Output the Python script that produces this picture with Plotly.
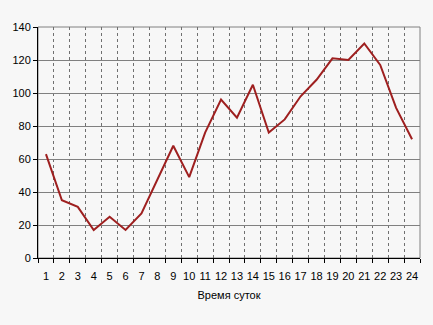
import plotly.graph_objects as go

hours = [str(i) for i in range(1, 25)]
values = [63, 35, 31, 17, 25, 17, 27, 47, 68, 49, 76, 96, 85, 105, 76, 84, 98, 108, 121, 120, 130, 117, 91, 72]
y_ticks = [0, 20, 40, 60, 80, 100, 120, 140]
x_title = "Время суток"

fig = go.Figure()
fig.add_trace(go.Scatter(x=hours, y=values, mode="lines",
                         line=dict(color="#9e1f1f", width=2), hoverinfo="skip"))

fig.update_layout(
    width=433, height=325,
    margin=dict(l=36, r=13, t=27, b=67),
    paper_bgcolor="#f7f7f7", plot_bgcolor="#f7f7f7",
    showlegend=False,
    font=dict(family="Liberation Sans, Arial, sans-serif", size=11, color="#000000"),
    shapes=[dict(type="rect", xref="paper", yref="paper", x0=0, y0=0, x1=1, y1=1,
                 line=dict(color="#808080", width=1), layer="below")],
)
fig.update_xaxes(
    type="category", tickson="boundaries", ticks="outside", ticklen=4,
    range=[-0.5, 23.5], tickangle=0, ticklabelstandoff=8,
    tickcolor="#000000", showline=True, linecolor="#000000", linewidth=1,
    showgrid=True, gridcolor="#707070", griddash="3px,3px", gridwidth=1,
    title=dict(text=x_title, font=dict(size=11), standoff=10),
    tickfont=dict(size=11), fixedrange=True,
)
fig.update_yaxes(
    range=[0, 140], tickvals=y_ticks, ticks="outside", ticklen=4,
    tickcolor="#000000", showline=True, linecolor="#000000", linewidth=1,
    showgrid=True, gridcolor="#808080", gridwidth=1, zeroline=False,
    tickfont=dict(size=11), fixedrange=True,
)

fig.write_html("out.html")
